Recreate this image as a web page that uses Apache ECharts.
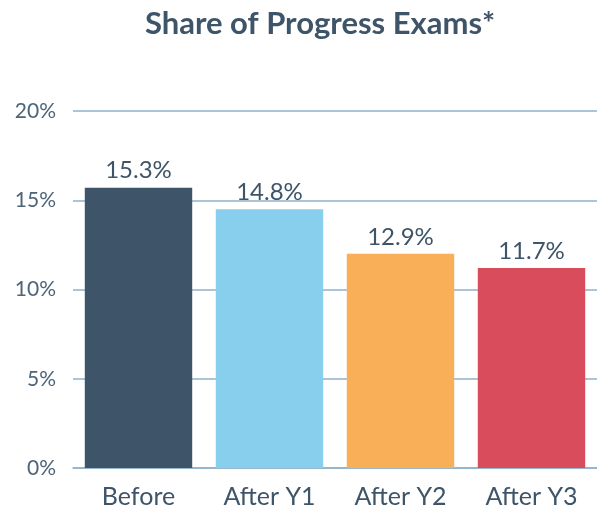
<!DOCTYPE html>
<html>
<head>
<meta charset="utf-8">
<script src="https://cdn.jsdelivr.net/npm/echarts@6/dist/echarts.min.js"></script>
<style>
  html, body { margin: 0; padding: 0; background: #fff; }
  #chart { width: 597px; height: 513px; }
</style>
</head>
<body>
<div id="chart"></div>
<script>
// values; labels as printed in the picture
const categories = ['Before', 'After Y1', 'After Y2', 'After Y3']
const barValues = [15.7, 14.5, 12.0, 11.2]
const barLabels = ['15.3%', '14.8%', '12.9%', '11.7%']
const barColors = ['#3e5468', '#88cfee', '#f8af57', '#d84c5c']

const textColor = '#3e5468'
const gridColor = '#8fb1c9'

const chart = echarts.init(document.getElementById('chart'))

chart.setOption({
  animation: false,
  title: {
    text: 'Share of Progress Exams*',
    left: 315,
    top: 3,
    textAlign: 'center',
    textStyle: { fontFamily: 'Lato', fontWeight: 'bold', fontSize: 31, color: textColor }
  },
  grid: { left: 73, right: -3, top: 111, bottom: 45 },
  xAxis: {
    type: 'category',
    data: categories,
    axisLine: { lineStyle: { color: gridColor, width: 1.5 } },
    axisTick: { show: false },
    axisLabel: { margin: 16, fontFamily: 'Lato', fontSize: 25, color: textColor }
  },
  yAxis: {
    type: 'value',
    min: 0,
    max: 20,
    interval: 5,
    axisLabel: { formatter: '{value}%', margin: 17, fontFamily: 'Lato', fontSize: 21, color: '#4d6479' },
    splitLine: { lineStyle: { color: gridColor, width: 1.5 } }
  },
  series: [{
    type: 'bar',
    barCategoryGap: '18%',
    data: barValues.map((v, i) => ({ value: v, itemStyle: { color: barColors[i] } })),
    label: {
      show: true,
      position: 'top',
      distance: 5,
      formatter: p => barLabels[p.dataIndex],
      fontFamily: 'Lato',
      fontSize: 24,
      color: textColor
    }
  }]
})
</script>
</body>
</html>
